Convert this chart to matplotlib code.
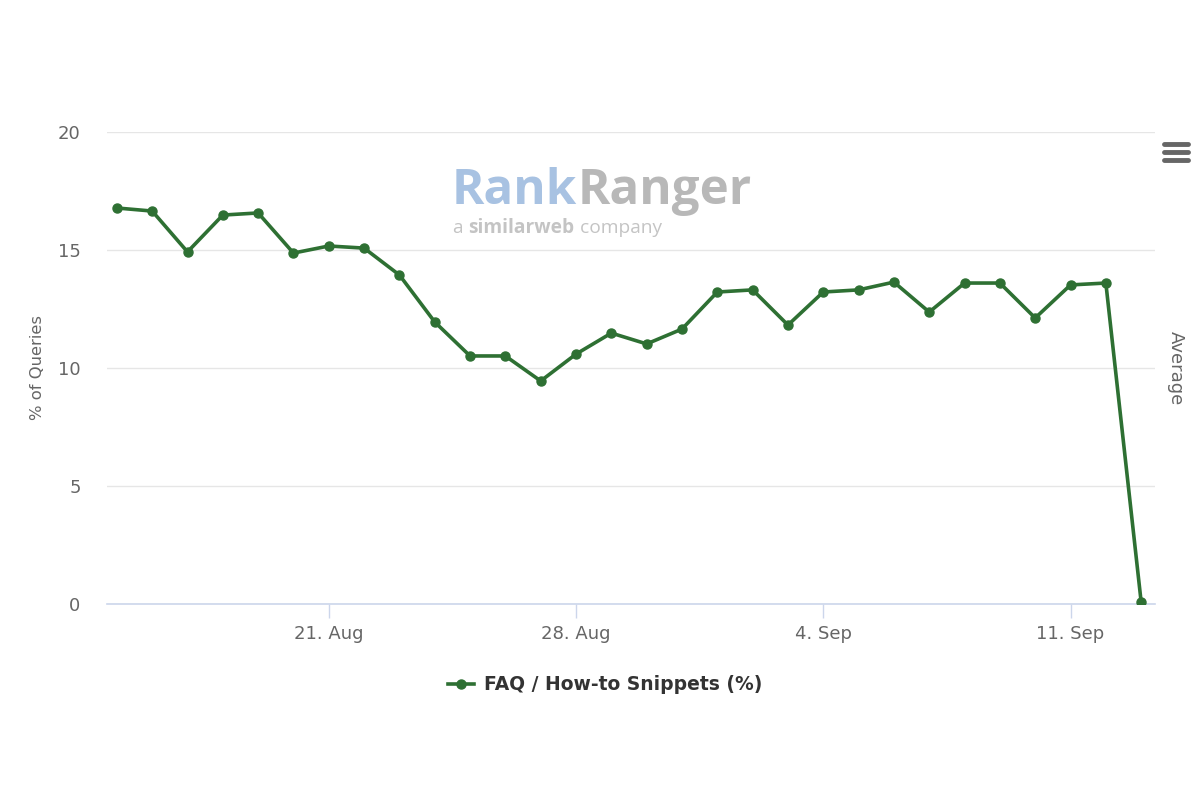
import numpy as np
import pandas as pd
import matplotlib
matplotlib.use("Agg")
import matplotlib.pyplot as plt
from matplotlib.lines import Line2D

dates = pd.date_range("2023-08-15", "2023-09-13", freq="D")
values = [16.78, 16.65, 14.92, 16.48, 16.57, 14.87, 15.17, 15.08, 13.94, 11.95,
          10.51, 10.51, 9.45, 10.59, 11.48, 11.02, 11.65, 13.22, 13.31, 11.82,
          13.22, 13.31, 13.64, 12.37, 13.60, 13.60, 12.12, 13.52, 13.60, 0.08]
tick_dates = pd.to_datetime(["2023-08-21", "2023-08-28", "2023-09-04", "2023-09-11"])
tick_labels = ["21. Aug", "28. Aug", "4. Sep", "11. Sep"]
series_name = "FAQ / How-to Snippets (%)"

green = "#2e7033"
plt.rcParams["font.family"] = ["DejaVu Sans"]

fig = plt.figure(figsize=(12, 8.01), dpi=100)
ax = fig.add_axes([107 / 1200, 1 - 604 / 801, (1155 - 107) / 1200, (604 - 132) / 801])

ax.plot(dates, values, color=green, lw=2.6, marker="o", ms=6.5, zorder=3,
        solid_joinstyle="round")

ax.set_ylim(0, 20)
ax.set_yticks([0, 5, 10, 15, 20])
ax.set_xlim(dates[0] - pd.Timedelta(hours=6.7), dates[-1] + pd.Timedelta(hours=9.4))
ax.set_xticks(tick_dates)
ax.set_xticklabels(tick_labels)

ax.grid(axis="y", color="#e6e6e6", lw=1)
ax.set_axisbelow(True)
for s in ["top", "right", "left"]:
    ax.spines[s].set_visible(False)
ax.spines["bottom"].set_color("#ccd6eb")
ax.spines["bottom"].set_linewidth(1.2)
ax.tick_params(axis="y", length=0, pad=19, labelsize=13, labelcolor="#666666")
ax.tick_params(axis="x", length=10, width=1, color="#ccd6eb", pad=5,
               labelsize=13, labelcolor="#666666")
ax.set_ylabel("% of Queries", fontsize=11.8, color="#666666", labelpad=9)

# right-side label
fig.text(1176 / 1200, 1 - 368 / 801, "Average", rotation=270, ha="center",
         va="center", fontsize=13, color="#666666")

# watermark
wm = dict(family="Open Sans")
t1 = fig.text(452 / 1200, 1 - 191 / 801, "Rank", fontsize=35.5, fontweight="bold",
              color="#a8c2e2", ha="left", va="center", **wm)
fig.add_artist(plt.Annotation("Ranger", xy=(1, 0.5), xycoords=t1, xytext=(0, 0),
                              textcoords="offset points", fontsize=35.5, fontweight="bold",
                              color="#b8b8b8", ha="left", va="center", **wm))
s1 = fig.text(453 / 1200, 1 - 228 / 801, "a ", fontsize=13.8, color="#c4c4c4",
              ha="left", va="center", **wm)
s2 = plt.Annotation("similarweb", xy=(1, 0.5), xycoords=s1, xytext=(0, 0),
                    textcoords="offset points", fontsize=13.8, fontweight="bold",
                    color="#c4c4c4", ha="left", va="center", **wm)
fig.add_artist(s2)
fig.add_artist(plt.Annotation(" company", xy=(1, 0.5), xycoords=s2, xytext=(0, 0),
                              textcoords="offset points", fontsize=13.8,
                              color="#c4c4c4", ha="left", va="center", **wm))

# menu icon
for yy in [144, 152, 160]:
    fig.add_artist(Line2D([1164 / 1200, 1188 / 1200], [1 - yy / 801, 1 - yy / 801],
                          color="#666666", lw=3.5, solid_capstyle="round"))

# legend
handle = Line2D([], [], color=green, lw=2.6, marker="o", ms=6.5)
leg = fig.legend([handle], [series_name], loc="center", bbox_to_anchor=(605 / 1200, 1 - 685 / 801),
                 frameon=False, handlelength=1.4, handletextpad=0.5,
                 prop={"size": 13.5, "weight": "bold"})
for t in leg.get_texts():
    t.set_color("#333333")

fig.savefig("out.png", dpi=100, facecolor="white")
